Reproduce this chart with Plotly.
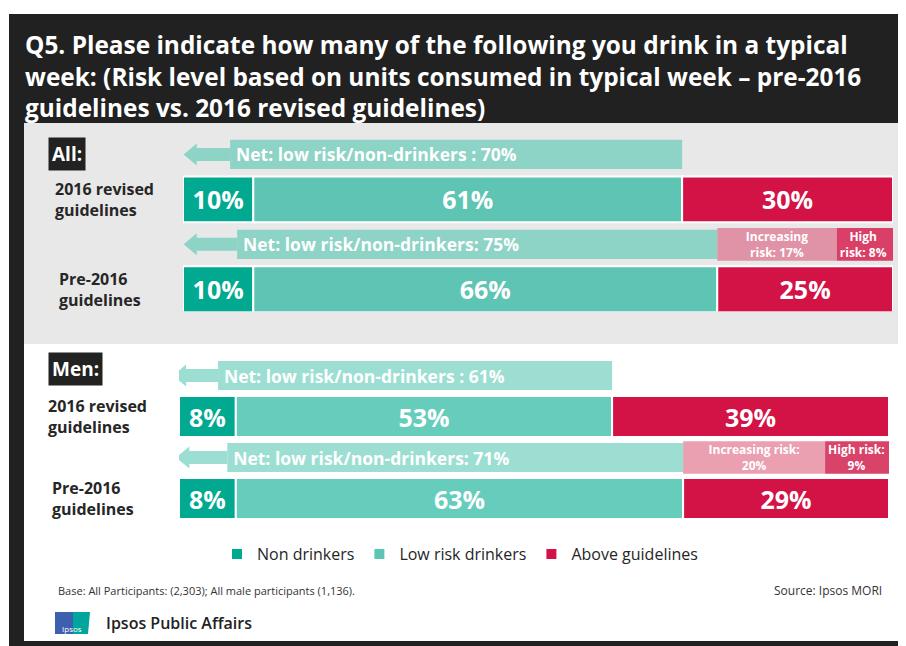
import plotly.graph_objects as go

# ---------------- data ----------------
row_labels = ["2016 revised<br>guidelines", "Pre-2016<br>guidelines"]
series_names = ["Non drinkers", "Low risk drinkers", "Above guidelines"]

all_non = [10, 10]
all_low = [61, 66]
all_above = [30, 25]
all_net = [70, 75]
all_increasing = [None, 17]
all_high = [None, 8]

men_non = [8, 8]
men_low = [53, 63]
men_above = [39, 29]
men_net = [61, 71]
men_increasing = [None, 20]
men_high = [None, 9]

net_fmt = ["Net: low risk/non-drinkers : {}%", "Net: low risk/non-drinkers: {}%"]
all_inc_fmt = ["Increasing<br>risk: {}%", "High<br>risk: {}%"]
men_inc_fmt = ["Increasing risk:<br>{}%", "High risk:<br>{}%"]

title_text = ("Q5. Please indicate how many of the following you drink in a typical<br>"
              "week: (Risk level based on units consumed in typical week \u2013 pre-2016<br>"
              "guidelines vs. 2016 revised guidelines)")
base_text = "Base: All Participants: (2,303); All male participants (1,136)."
source_text = "Source: Ipsos MORI"

# ---------------- style ----------------
PAGE_OFF = 8          # default body margin of the html page
W, H = 906 - PAGE_OFF, 646 - PAGE_OFF
FONT = "Open Sans"
C_NON = "#00A98F"
C_LOW_ALL = "#5EC4B3"
C_LOW_MEN = "#66CDBD"
C_ABOVE = "#D31245"
C_NET_ALL = "#8DD3C6"
C_NET_MEN = "#9CDFD2"
C_INC_ALL = "#E093A6"
C_INC_MEN = "#EBA0B1"
C_HIGH_ALL = "#D93F67"
C_HIGH_MEN = "#DA4369"
DARK = "#222222"


def px(x):
    return (x - PAGE_OFF) / W


def py(y):
    return 1 - (y - PAGE_OFF) / H


fig = go.Figure()

sections = [
    dict(xa="x", ya="y", non=all_non, low=all_low, above=all_above, net=all_net,
         inc=all_increasing, high=all_high, inc_fmt=all_inc_fmt, c_low=C_LOW_ALL,
         c_net=C_NET_ALL, c_inc=C_INC_ALL, c_high=C_HIGH_ALL, legend=True,
         bar_w=1.02, net_w=0.65, arrow_base=[6.7, 7.7], arrow_tip=[0.1, 0.1],
         head_h=0.245, shaft_h=0.145),
    dict(xa="x2", ya="y2", non=men_non, low=men_low, above=men_above, net=men_net,
         inc=men_increasing, high=men_high, inc_fmt=men_inc_fmt, c_low=C_LOW_MEN,
         c_net=C_NET_MEN, c_inc=C_INC_MEN, c_high=C_HIGH_MEN, legend=False,
         bar_w=1.0, net_w=0.71, arrow_base=[5.5, 6.8], arrow_tip=[-0.85, -0.4],
         head_h=0.27, shaft_h=0.16),
]

bar_rows = [1, 3]
net_rows = [0, 2]
big_font = dict(family=FONT, size=25, color="white", weight="bold")
common = dict(orientation="h", textposition="inside", insidetextanchor="middle",
              textangle=0, constraintext="none", hoverinfo="skip",
              marker_line=dict(color="white", width=2))

arrow_shapes = []
for s in sections:
    base_low = list(s["non"])
    base_above = [a + b for a, b in zip(s["non"], s["low"])]
    fig.add_trace(go.Bar(y=bar_rows, x=s["non"], base=[0, 0], width=s["bar_w"],
                         name=series_names[0], marker_color=C_NON,
                         text=[f"{v}%" for v in s["non"]], textfont=big_font,
                         xaxis=s["xa"], yaxis=s["ya"], showlegend=s["legend"],
                         legendrank=1, **common))
    fig.add_trace(go.Bar(y=bar_rows, x=s["low"], base=base_low, width=s["bar_w"],
                         name=series_names[1], marker_color=s["c_low"],
                         text=[f"{v}%" for v in s["low"]], textfont=big_font,
                         xaxis=s["xa"], yaxis=s["ya"], showlegend=s["legend"],
                         legendrank=2, **common))
    fig.add_trace(go.Bar(y=bar_rows, x=s["above"], base=base_above, width=s["bar_w"],
                         name=series_names[2], marker_color=C_ABOVE,
                         text=[f"{v}%" for v in s["above"]], textfont=big_font,
                         xaxis=s["xa"], yaxis=s["ya"], showlegend=s["legend"],
                         legendrank=3, **common))
    # Net rectangles (extend to the end of the non + low risk segment)
    net_end = base_above
    fig.add_trace(go.Bar(y=net_rows, x=[e - b for e, b in zip(net_end, s["arrow_base"])],
                         base=s["arrow_base"], width=s["net_w"],
                         marker=dict(color=s["c_net"], line=dict(width=0)),
                         orientation="h", textposition="inside", insidetextanchor="start",
                         textangle=0, constraintext="none", hoverinfo="skip",
                         text=["\u2009" + net_fmt[i].format(v) for i, v in enumerate(s["net"])],
                         textfont=dict(family=FONT, size=17.5, color="white", weight="bold"),
                         xaxis=s["xa"], yaxis=s["ya"], showlegend=False))
    # Increasing / high risk breakdown
    inc_rows = [net_rows[i] for i, v in enumerate(s["inc"]) if v is not None]
    inc_vals = [v for v in s["inc"] if v is not None]
    high_vals = [v for v in s["high"] if v is not None]
    inc_base = [net_end[i] for i, v in enumerate(s["inc"]) if v is not None]
    fig.add_trace(go.Bar(y=inc_rows, x=inc_vals, base=inc_base, width=s["net_w"] + 0.08,
                         marker=dict(color=s["c_inc"], line=dict(width=0)),
                         orientation="h", textposition="inside", insidetextanchor="middle",
                         textangle=0, constraintext="none", hoverinfo="skip",
                         text=[s["inc_fmt"][0].format(v) for v in inc_vals],
                         textfont=dict(family=FONT, size=12, color="white", weight="bold"),
                         xaxis=s["xa"], yaxis=s["ya"], showlegend=False))
    fig.add_trace(go.Bar(y=inc_rows, x=high_vals,
                         base=[b + v for b, v in zip(inc_base, inc_vals)], width=s["net_w"] + 0.08,
                         marker=dict(color=s["c_high"], line=dict(width=0)),
                         orientation="h", textposition="inside", insidetextanchor="start",
                         textangle=0, constraintext="none", hoverinfo="skip",
                         text=[s["inc_fmt"][1].format(v) for v in high_vals],
                         textfont=dict(family=FONT, size=12, color="white", weight="bold"),
                         xaxis=s["xa"], yaxis=s["ya"], showlegend=False))
    # arrows to the left of the net rectangles
    for i, r in enumerate(net_rows):
        tip = s["arrow_tip"][i]
        b = s["arrow_base"][i]
        hl = 1.85
        hh, sh = s["head_h"], s["shaft_h"]
        path = (f"M {tip},{r} L {tip + hl},{r - hh} L {tip + hl},{r - sh} L {b},{r - sh} "
                f"L {b},{r + sh} L {tip + hl},{r + sh} L {tip + hl},{r + hh} Z")
        arrow_shapes.append(dict(type="path", path=path, xref=s["xa"], yref=s["ya"],
                                 fillcolor=s["c_net"], line=dict(width=0), layer="above"))

shapes = [
    dict(type="rect", xref="paper", yref="paper", x0=px(9), x1=1, y0=0, y1=py(14),
         fillcolor="#212121", line=dict(width=0), layer="below"),
    dict(type="rect", xref="paper", yref="paper", x0=px(24), x1=px(901), y0=py(641), y1=py(123),
         fillcolor="white", line=dict(width=0), layer="below"),
    dict(type="rect", xref="paper", yref="paper", x0=px(24), x1=px(901), y0=py(344), y1=py(123),
         fillcolor="#E8E8E8", line=dict(width=0), layer="below"),
    # Ipsos logo
    dict(type="rect", xref="paper", yref="paper", x0=px(55), x1=px(73), y0=py(634), y1=py(612),
         fillcolor="#3D5FAD", line=dict(width=0), layer="below"),
    dict(type="path", xref="paper", yref="paper",
         path=f"M {px(73)},{py(634)} L {px(88)},{py(634)} L {px(90)},{py(612)} L {px(73)},{py(612)} Z",
         fillcolor="#00A59B", line=dict(width=0), layer="below"),
] + arrow_shapes

annotations = [
    dict(text=f"<b>{title_text}</b>", x=px(23), y=py(26), xref="paper", yref="paper",
         xanchor="left", yanchor="top", align="left", showarrow=False,
         font=dict(family=FONT, size=24.4, color="white")),
    dict(text="<b>All:</b>", x=px(48), y=py(154.5), xref="paper", yref="paper",
         xanchor="left", yanchor="middle", showarrow=False, bgcolor=DARK, borderpad=3,
         font=dict(family=FONT, size=19, color="white")),
    dict(text="<b>Men:</b>", x=px(48), y=py(368.5), xref="paper", yref="paper",
         xanchor="left", yanchor="middle", showarrow=False, bgcolor=DARK, borderpad=3,
         font=dict(family=FONT, size=19, color="white")),
    dict(text=base_text, x=px(56), y=py(590), xref="paper", yref="paper",
         xanchor="left", yanchor="middle", showarrow=False,
         font=dict(family=FONT, size=11, color="#333333")),
    dict(text=source_text, x=px(884), y=py(590), xref="paper", yref="paper",
         xanchor="right", yanchor="middle", showarrow=False,
         font=dict(family=FONT, size=12, color="#333333")),
    dict(text="Ipsos Public Affairs", x=px(104), y=py(623), xref="paper", yref="paper",
         xanchor="left", yanchor="middle", showarrow=False,
         font=dict(family=FONT, size=16, color="#222222", weight=600)),
    dict(text="Ipsos", x=px(72), y=py(628), xref="paper", yref="paper",
         xanchor="center", yanchor="middle", showarrow=False,
         font=dict(family=FONT, size=8, color="white")),
]
label_x = [[53, 57], [46, 50]]
for si, s in enumerate(sections):
    for i, r in enumerate(bar_rows):
        annotations.append(dict(text=f"<b>{row_labels[i]}</b>", x=px(label_x[si][i]), y=r,
                                xref="paper", yref=s["ya"], xanchor="left", yanchor="middle",
                                align="left", showarrow=False,
                                font=dict(family=FONT, size=16, color="#262626")))

fig.update_layout(
    width=W, height=H, autosize=False,
    margin=dict(l=0, r=0, t=0, b=0, pad=0),
    paper_bgcolor="white", plot_bgcolor="rgba(0,0,0,0)",
    barmode="overlay",
    xaxis=dict(domain=[px(183), px(893)], range=[0, 101], visible=False, fixedrange=True),
    yaxis=dict(domain=[py(311.7), py(132)], range=[3.5, -0.5], visible=False, fixedrange=True),
    xaxis2=dict(domain=[px(179), px(889)], range=[0, 100], visible=False, fixedrange=True,
                anchor="y2"),
    yaxis2=dict(domain=[py(519), py(355)], range=[3.5, -0.5], visible=False, fixedrange=True,
                anchor="x2"),
    shapes=shapes,
    annotations=annotations,
    legend=dict(orientation="h", x=px(460), xanchor="center", y=py(554), yanchor="middle",
                font=dict(family=FONT, size=16, color="#262626"), bgcolor="rgba(0,0,0,0)",
                itemwidth=30, traceorder="normal"),
    showlegend=True,
)

fig.write_html("out.html")
